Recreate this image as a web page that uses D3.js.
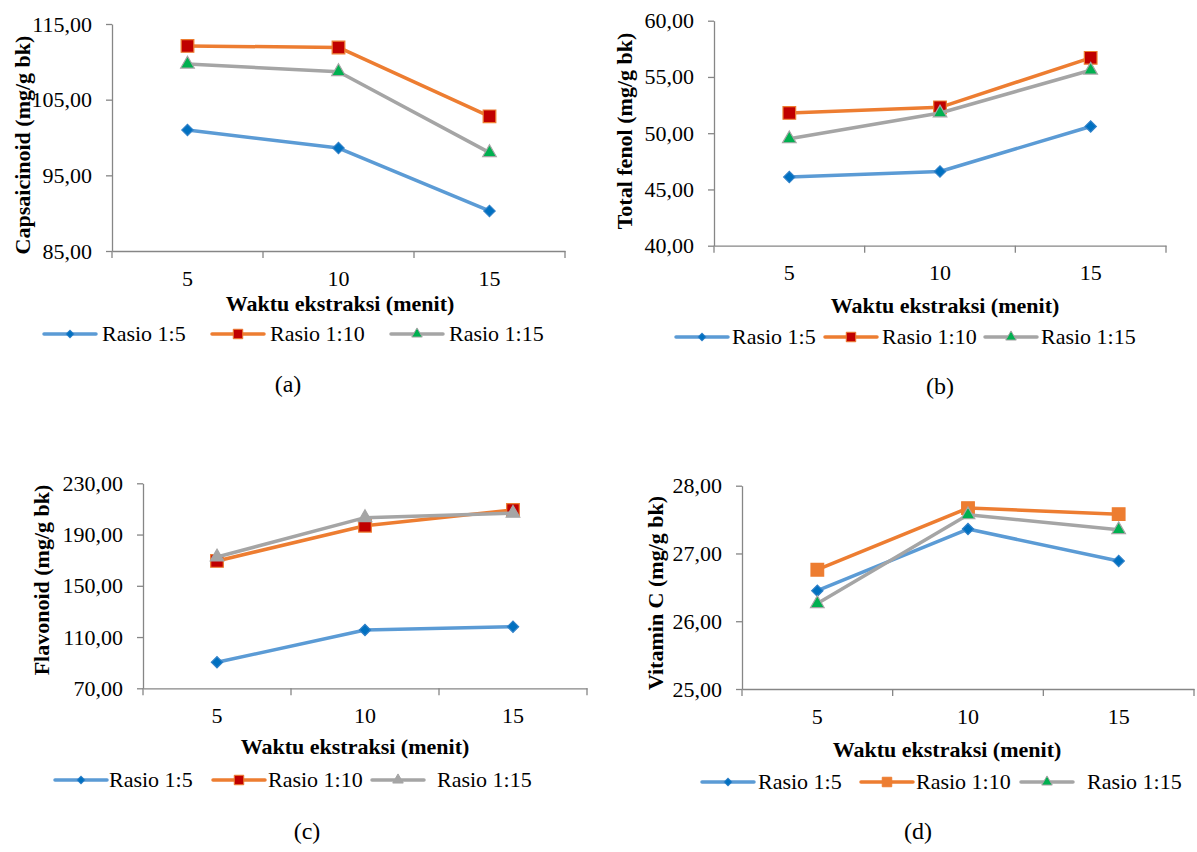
<!DOCTYPE html>
<html>
<head>
<meta charset="utf-8">
<script src="https://cdn.jsdelivr.net/npm/d3@7"></script>
<style>
  html, body { margin: 0; padding: 0; background: #fff; }
  svg { display: block; }
  svg text { font-family: "Liberation Serif", "DejaVu Serif", serif; fill: #000; }
</style>
</head>
<body>
<svg id="chart" width="1197" height="852"></svg>
<script>
// <DATA>
var waktu = ['5', '10', '15'];
var rasio = ['Rasio 1:5', 'Rasio 1:10', 'Rasio 1:15'];

var capsRasio5 = [101.0, 98.6, 90.3];
var capsRasio10 = [112.1, 111.9, 102.8];
var capsRasio15 = [109.7, 108.7, 98.0];
var capsTicks = [85, 95, 105, 115];

var fenolRasio5 = [46.1, 46.6, 50.6];
var fenolRasio10 = [51.8, 52.3, 56.7];
var fenolRasio15 = [49.5, 51.8, 55.6];
var fenolTicks = [40, 45, 50, 55, 60];

var flavRasio5 = [90.3, 115.5, 118.1];
var flavRasio10 = [169.4, 196.9, 209.2];
var flavRasio15 = [172.5, 203.2, 206.6];
var flavTicks = [70, 110, 150, 190, 230];

var vitcRasio5 = [26.45, 27.36, 26.89];
var vitcRasio10 = [26.76, 27.67, 27.58];
var vitcRasio15 = [26.26, 27.57, 27.35];
var vitcTicks = [25, 26, 27, 28];

var yTitles = ['Capsaicinoid (mg/g bk)', 'Total fenol (mg/g bk)', 'Flavonoid (mg/g bk)', 'Vitamin C (mg/g bk)'];
var xTitle = 'Waktu ekstraksi (menit)';
var captions = ['(a)', '(b)', '(c)', '(d)'];
// </DATA>

var svg = d3.select('#chart');
var axisColor = '#868686';
var serif = '"Liberation Serif", "DejaVu Serif", serif';
var fmt = function (d) { return d3.format('.2f')(d).replace('.', ','); };

// marker styles per panel (fill differs between panels)
function seriesStyles(variant) {
  var sq = variant === 'd' ? '#ED7D31' : '#C00000';
  var tri = variant === 'c' ? '#A5A5A5' : '#00B050';
  return [
    { line: '#5B9BD5', shape: 'diamond', fill: '#0070C0', stroke: '#2F80C8' },
    { line: '#ED7D31', shape: 'square', fill: sq, stroke: '#ED7D31' },
    { line: '#A5A5A5', shape: 'triangle', fill: tri, stroke: '#A5A5A5' }
  ];
}

function markerPath(shape, big) {
  if (shape === 'diamond') return d3.symbol().type(d3.symbolSquare).size(big ? 64 : 30)();
  if (shape === 'square') return d3.symbol().type(d3.symbolSquare).size(big ? 160 : 90)();
  return d3.symbol().type(d3.symbolTriangle).size(big ? 80 : 48)();
}

var panels = [
  { id: 'a', series: [capsRasio5, capsRasio10, capsRasio15], ticks: capsTicks,
    x0: 112, x1: 565, yTop: 24, yBot: 251,
    yTitle: { x: 23, y: 145 }, xTitleX: 340, xTitleY: 311,
    legendY: 334, legendLine: [44, 212, 391], legendText: [102, 270, 449],
    cap: { x: 288, y: 392 } },
  { id: 'b', series: [fenolRasio5, fenolRasio10, fenolRasio15], ticks: fenolTicks,
    x0: 714, x1: 1166, yTop: 20.7, yBot: 245.7,
    yTitle: { x: 625, y: 131 }, xTitleX: 945, xTitleY: 313,
    legendY: 337, legendLine: [676, 825, 985], legendText: [732, 882, 1041],
    cap: { x: 940, y: 394 } },
  { id: 'c', series: [flavRasio5, flavRasio10, flavRasio15], ticks: flavTicks,
    x0: 143, x1: 587, yTop: 483.3, yBot: 688.3,
    yTitle: { x: 42, y: 580 }, xTitleX: 355, xTitleY: 754,
    legendY: 780, legendLine: [55, 213, 372], legendText: [109, 268, 437],
    cap: { x: 307, y: 839 } },
  { id: 'd', series: [vitcRasio5, vitcRasio10, vitcRasio15], ticks: vitcTicks,
    x0: 742, x1: 1194, yTop: 485.7, yBot: 689,
    yTitle: { x: 656, y: 593 }, xTitleX: 947, xTitleY: 757,
    legendY: 782, legendLine: [702, 861, 1021], legendText: [758, 916, 1087],
    cap: { x: 918, y: 839 } }
];

panels.forEach(function (p, pi) {
  var g = svg.append('g').attr('class', 'panel-' + p.id);
  var styles = seriesStyles(p.id);

  var x = d3.scaleBand().domain(waktu).range([p.x0, p.x1]);
  var y = d3.scaleLinear()
    .domain([p.ticks[0], p.ticks[p.ticks.length - 1]])
    .range([p.yBot, p.yTop]);

  // Y AXIS
  var yAxis = g.append('g')
    .attr('transform', 'translate(' + p.x0 + ',0)')
    .call(d3.axisLeft(y).tickValues(p.ticks).tickFormat(fmt).tickSize(6).tickSizeOuter(0).tickPadding(14));
  yAxis.attr('font-family', serif).attr('font-size', 22);
  yAxis.selectAll('.tick text').style('font-size', '22px');
  yAxis.select('.domain').attr('stroke', axisColor).attr('stroke-width', 1.3);
  yAxis.selectAll('.tick line').attr('stroke', axisColor).attr('stroke-width', 1.3);

  // X AXIS (labels centred in bands, tick marks between bands)
  var xAxis = g.append('g')
    .attr('transform', 'translate(0,' + p.yBot + ')')
    .call(d3.axisBottom(x).tickSize(0).tickSizeOuter(0).tickPadding(19));
  xAxis.attr('font-family', serif).attr('font-size', 22);
  xAxis.selectAll('.tick text').style('font-size', '22px');
  xAxis.select('.domain').attr('stroke', axisColor).attr('stroke-width', 1.3);
  var bounds = waktu.map(function (w) { return x(w); }).concat([x(waktu[waktu.length - 1]) + x.step()]);
  xAxis.selectAll('line.bound').data(bounds).enter().append('line')
    .attr('class', 'bound')
    .attr('x1', function (d) { return d; }).attr('x2', function (d) { return d; })
    .attr('y1', 0).attr('y2', 7)
    .attr('stroke', axisColor).attr('stroke-width', 1.3);

  // AXIS TITLES
  g.append('text')
    .attr('transform', 'translate(' + (p.yTitle.x + 7) + ',' + p.yTitle.y + ') rotate(-90)')
    .attr('text-anchor', 'middle')
    .style('font-size', '22px').style('font-weight', 'bold')
    .text(yTitles[pi]);
  g.append('text')
    .attr('x', p.xTitleX).attr('y', p.xTitleY)
    .attr('text-anchor', 'middle')
    .style('font-size', '22px').style('font-weight', 'bold')
    .text(xTitle);

  // LINES + MARKERS
  var lineGen = d3.line()
    .x(function (d, i) { return x(waktu[i]) + x.bandwidth() / 2; })
    .y(function (d) { return y(d); });

  p.series.forEach(function (vals, si) {
    var st = styles[si];
    g.append('path')
      .attr('d', lineGen(vals))
      .attr('fill', 'none')
      .attr('stroke', st.line)
      .attr('stroke-width', 3.5)
      .attr('stroke-linejoin', 'round');
    g.selectAll('path.m' + si).data(vals).enter().append('path')
      .attr('class', 'm' + si)
      .attr('d', markerPath(st.shape, true))
      .attr('transform', function (d, i) {
        var cx = x(waktu[i]) + x.bandwidth() / 2;
        return 'translate(' + cx + ',' + y(d) + ')' + (st.shape === 'diamond' ? ' rotate(45)' : '');
      })
      .attr('fill', st.fill)
      .attr('stroke', st.stroke)
      .attr('stroke-width', 1.2);
  });

  // LEGEND
  rasio.forEach(function (name, si) {
    var st = styles[si];
    var lx = p.legendLine[si];
    var lw = 52;
    g.append('line')
      .attr('x1', lx).attr('x2', lx + lw)
      .attr('y1', p.legendY).attr('y2', p.legendY)
      .attr('stroke', st.line).attr('stroke-width', 3.5).attr('stroke-linecap', 'round');
    g.append('path')
      .attr('d', markerPath(st.shape, false))
      .attr('transform', 'translate(' + (lx + lw / 2) + ',' + p.legendY + ')' + (st.shape === 'diamond' ? ' rotate(45)' : ''))
      .attr('fill', st.fill).attr('stroke', st.stroke).attr('stroke-width', 1);
    g.append('text')
      .attr('x', p.legendText[si]).attr('y', p.legendY + 7)
      .style('font-size', '22px')
      .text(name);
  });

  // CAPTION
  g.append('text')
    .attr('x', p.cap.x).attr('y', p.cap.y)
    .attr('text-anchor', 'middle')
    .style('font-size', '24px')
    .text(captions[pi]);
});
</script>
</body>
</html>
